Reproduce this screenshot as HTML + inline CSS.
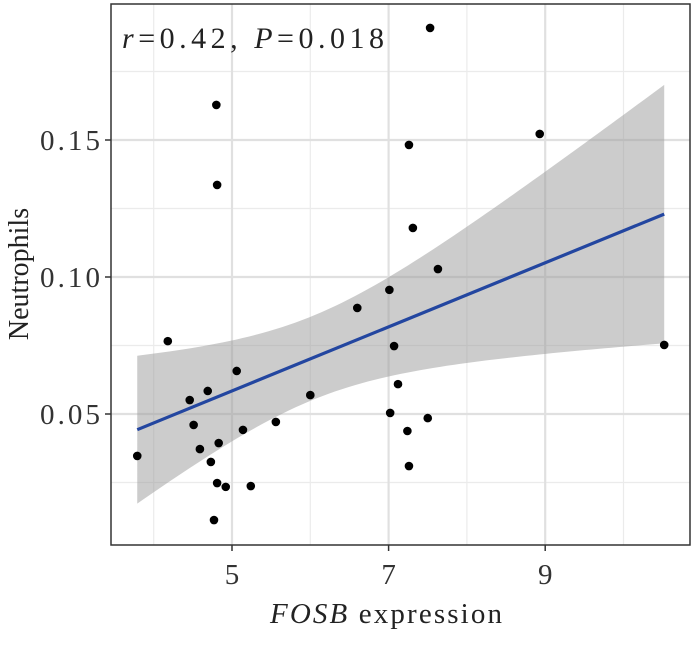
<!DOCTYPE html>
<html><head><meta charset="utf-8"><style>
body{margin:0;background:#fff;}
svg{display:block;font-family:"Liberation Serif","DejaVu Serif",serif;}
</style></head><body>
<svg id="chart" width="696" height="655" viewBox="0 0 696 655" xmlns="http://www.w3.org/2000/svg">
<rect width="696" height="655" fill="#fff"/>
<g id="grid"></g>
<g id="band"></g>
<g id="line"></g>
<g id="pts"></g>
<rect x="111" y="4" width="579" height="541" fill="none" stroke="#333" stroke-width="1.5"/>
<g id="axes"></g>
<text x="122" y="48" font-size="30" fill="#222" textLength="262" lengthAdjust="spacing"><tspan font-style="italic">r</tspan>=0.42, <tspan font-style="italic">P</tspan>=0.018</text>
<text x="270" y="623" font-size="29" fill="#222" textLength="232" lengthAdjust="spacing"><tspan font-style="italic">FOSB</tspan> expression</text>
<text transform="translate(28,274) rotate(-90)" font-size="28" text-anchor="middle" fill="#222">Neutrophils</text>
</svg>
<script>
const xs=[3.79,4.18,4.46,4.51,4.59,4.69,4.73,4.80,4.81,4.77,4.81,4.83,4.92,5.06,5.14,5.24,5.56,6.00,6.60,7.01,7.02,7.07,7.12,7.24,7.26,7.26,7.31,7.50,7.53,7.63,8.93,10.52];
const ys=[0.0347,0.0766,0.0551,0.046,0.0372,0.0584,0.0325,0.1628,0.1336,0.0113,0.0248,0.0394,0.0234,0.0657,0.0442,0.0237,0.0471,0.0569,0.0887,0.0953,0.0504,0.0748,0.0609,0.0438,0.031,0.1482,0.1179,0.0485,0.1909,0.1029,0.1522,0.0752];
const xTicks=[5,7,9];
const xMinor=[4,6,8,10];
const yTicks=[0.05,0.10,0.15];
const yTickLabels=["0.05","0.10","0.15"];
const yMinor=[0.025,0.075,0.125,0.175];

const X=v=>232+(v-5)*78.3;
const Y=v=>140-(v-0.15)*2740;
const NS="http://www.w3.org/2000/svg";
function mk(tag,attrs,parent){const e=document.createElementNS(NS,tag);for(const k in attrs)e.setAttribute(k,attrs[k]);document.getElementById(parent).appendChild(e);return e;}

xMinor.forEach(v=>{const e=mk('line',{x1:X(v),x2:X(v),y1:4,y2:545,stroke:'#ebebeb','stroke-width':1.2},'grid');

});
yMinor.forEach(v=>{const e=mk('line',{x1:111,x2:690,y1:Y(v),y2:Y(v),stroke:'#ebebeb','stroke-width':1.2},'grid');

});
xTicks.forEach(v=>{const e=mk('line',{x1:X(v),x2:X(v),y1:4,y2:545,stroke:'#e0e0e0','stroke-width':2.2},'grid');


const t=mk('line',{x1:X(v),x2:X(v),y1:545,y2:551,stroke:'#333','stroke-width':1.5},'axes');


const l=mk('text',{x:X(v),y:584,'font-size':29,'text-anchor':'middle',fill:'#333'},'axes');l.textContent=v;

});
yTicks.forEach((v,i)=>{const e=mk('line',{x1:111,x2:690,y1:Y(v),y2:Y(v),stroke:'#e0e0e0','stroke-width':2.2},'grid');


const t=mk('line',{x1:105,x2:111,y1:Y(v),y2:Y(v),stroke:'#333','stroke-width':1.5},'axes');


const l=mk('text',{x:40,y:Y(v)+10,'font-size':29,fill:'#333',textLength:60,lengthAdjust:'spacing'},'axes');l.textContent=yTickLabels[i];

});

const n=xs.length;const mx=xs.reduce((a,b)=>a+b)/n,my=ys.reduce((a,b)=>a+b)/n;
let sxx=0,sxy=0;for(let i=0;i<n;i++){sxx+=(xs[i]-mx)**2;sxy+=(xs[i]-mx)*(ys[i]-my);}
const b=sxy/sxx,a=my-b*mx;let sse=0;for(let i=0;i<n;i++)sse+=(ys[i]-a-b*xs[i])**2;
const s=Math.sqrt(sse/(n-2)),tq=2.042;
const x0=Math.min(...xs),x1=Math.max(...xs);const up=[],lo=[];
for(let k=0;k<=80;k++){const x=x0+(x1-x0)*k/80;const f=a+b*x;const se=s*Math.sqrt(1/n+(x-mx)**2/sxx);up.push(X(x)+','+Y(f+tq*se));lo.unshift(X(x)+','+Y(f-tq*se));}
const band=mk('polygon',{points:up.concat(lo).join(' '),fill:'#999','fill-opacity':0.5},'band');


const ln=mk('line',{x1:X(x0),y1:Y(a+b*x0),x2:X(x1),y2:Y(a+b*x1),stroke:'#2346a0','stroke-width':3.2},'line');


for(let i=0;i<n;i++){const c=mk('circle',{cx:X(xs[i]),cy:Y(ys[i]),r:4.3,fill:'#000'},'pts');

}
</script>
</body></html>
